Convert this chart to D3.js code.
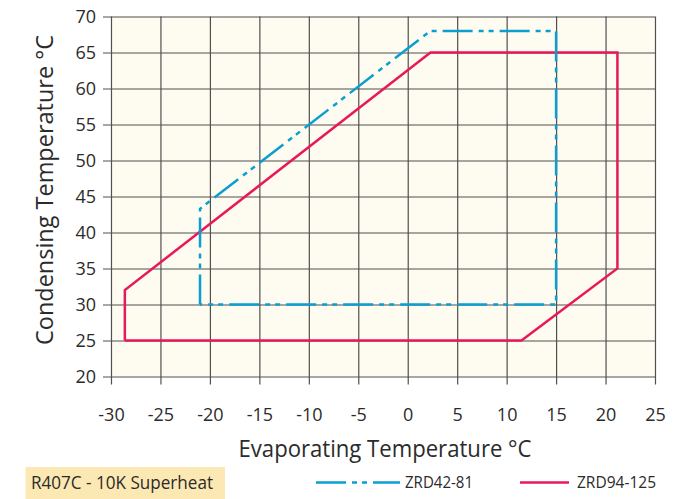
<!DOCTYPE html>
<html>
<head>
<meta charset="utf-8">
<script src="https://cdn.jsdelivr.net/npm/d3@7"></script>
<style>
  body { margin: 0; background: #ffffff; }
  svg { display: block; }
  text { font-family: "Open Sans", "Noto Sans", sans-serif; fill: #2b2b2b; }
</style>
</head>
<body>
<div id="chart"></div>
<script>
// Envelope values (evaporating / condensing temperature, °C)
const evapTicks = [-30, -25, -20, -15, -10, -5, 0, 5, 10, 15, 20, 25];
const condTicks = [20, 25, 30, 35, 40, 45, 50, 55, 60, 65, 70];

const zrd42Evap = [-21, -21, 2.3, 15, 15, -21];
const zrd42Cond = [30, 43.3, 68, 68, 30, 30];

const zrd94Evap = [-28.6, -28.6, 2.3, 21.2, 21.2, 11.5, -28.6];
const zrd94Cond = [25, 32, 65, 65, 35, 25, 25];

const seriesNames = ["ZRD42-81", "ZRD94-125"];
const refrigerantLabel = "R407C - 10K Superheat";

const width = 697;
const height = 499;
const blue = "#0a9fcf";
const red = "#e8185a";
const gridColor = "#505050";

const svg = d3.select("#chart")
  .append("svg")
  .attr("width", width)
  .attr("height", height);

const x = d3.scaleLinear().domain([-30, 25]).range([111, 655]);
const y = d3.scaleLinear().domain([20, 70]).range([376.5, 16.5]);

// cream plot background
svg.append("rect")
  .attr("x", x(-30))
  .attr("y", y(70))
  .attr("width", x(25) - x(-30))
  .attr("height", y(20) - y(70))
  .attr("fill", "#fefbf1");

const tickOut = 8;

// vertical grid + bottom labels
svg.append("g")
  .attr("transform", `translate(0,${y(20) + tickOut})`)
  .call(d3.axisBottom(x)
    .tickValues(evapTicks)
    .tickSize(-(y(20) - y(70) + tickOut))
    .tickPadding(23.5)
    .tickFormat((d) => d))
  .call((g) => g.select(".domain").remove())
  .call((g) => g.selectAll("line")
    .attr("stroke", gridColor)
    .attr("stroke-width", 1.2))
  .call((g) => g.selectAll("text")
    .attr("fill", "#2b2b2b")
    .style("font-size", "18px")
    .style("font-family", "'Open Sans', sans-serif"));

// horizontal grid + left labels
svg.append("g")
  .attr("transform", `translate(${x(-30) - tickOut},0)`)
  .call(d3.axisLeft(y)
    .tickValues(condTicks)
    .tickSize(-(x(25) - x(-30) + tickOut))
    .tickPadding(7)
    .tickFormat((d) => d))
  .call((g) => g.select(".domain").remove())
  .call((g) => g.selectAll("line")
    .attr("stroke", gridColor)
    .attr("stroke-width", 1.2))
  .call((g) => g.selectAll("text")
    .attr("fill", "#2b2b2b")
    .attr("dy", "0.34em")
    .style("font-size", "18px")
    .style("font-family", "'Open Sans', sans-serif"));

// envelopes
const line = d3.line()
  .x((d) => x(d[0]))
  .y((d) => y(d[1]));

svg.append("path")
  .datum(d3.zip(zrd94Evap, zrd94Cond))
  .attr("d", line)
  .attr("fill", "none")
  .attr("stroke", red)
  .attr("stroke-width", 2.5)
  .attr("stroke-linejoin", "miter");

svg.append("path")
  .datum(d3.zip(zrd42Evap, zrd42Cond))
  .attr("d", line)
  .attr("fill", "none")
  .attr("stroke", blue)
  .attr("stroke-width", 2.5)
  .attr("stroke-dasharray", "30,6,5,5,5,6");

// axis titles
svg.append("text")
  .attr("x", 385)
  .attr("y", 456.5)
  .attr("text-anchor", "middle")
  .attr("font-size", 23)
  .attr("textLength", 293)
  .attr("lengthAdjust", "spacingAndGlyphs")
  .text("Evaporating Temperature °C");

svg.append("text")
  .attr("transform", "translate(53,190) rotate(-90)")
  .attr("text-anchor", "middle")
  .attr("font-size", 23)
  .attr("textLength", 310)
  .attr("lengthAdjust", "spacingAndGlyphs")
  .text("Condensing Temperature °C");

// refrigerant box
svg.append("rect")
  .attr("x", 25.5)
  .attr("y", 467)
  .attr("width", 199.5)
  .attr("height", 32)
  .attr("fill", "#fce8b2");

svg.append("text")
  .attr("x", 31)
  .attr("y", 488.5)
  .attr("font-size", 19)
  .attr("textLength", 182)
  .attr("lengthAdjust", "spacingAndGlyphs")
  .text(refrigerantLabel);

// legend
const legendY = 482.5;
const legendItems = [
  { name: seriesNames[0], color: blue, dash: "30,6,5,5,5,6", x0: 316, x1: 400, tx: 405, tl: 68 },
  { name: seriesNames[1], color: red, dash: null, x0: 520, x1: 569, tx: 577, tl: 79 }
];

const legend = svg.append("g");

legend.selectAll("line")
  .data(legendItems)
  .enter()
  .append("line")
  .attr("x1", (d) => d.x0)
  .attr("x2", (d) => d.x1)
  .attr("y1", legendY)
  .attr("y2", legendY)
  .attr("stroke", (d) => d.color)
  .attr("stroke-width", 2.5)
  .attr("stroke-dasharray", (d) => d.dash);

legend.selectAll("text")
  .data(legendItems)
  .enter()
  .append("text")
  .attr("x", (d) => d.tx)
  .attr("y", legendY + 5)
  .attr("font-size", 16)
  .attr("textLength", (d) => d.tl)
  .attr("lengthAdjust", "spacingAndGlyphs")
  .text((d) => d.name);
</script>
</body>
</html>
